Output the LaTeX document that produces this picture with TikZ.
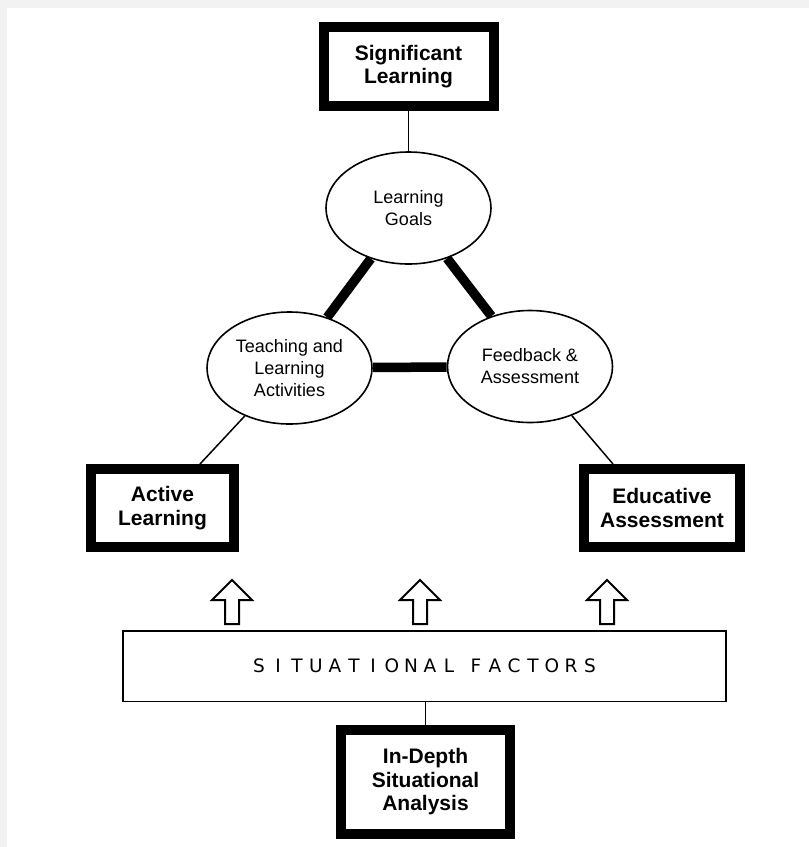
\documentclass[tikz,border=0pt]{standalone}
\usepackage{fontspec}
\setmainfont{Liberation Sans}
\newfontfamily\factorsfont{DejaVu Sans}
\usetikzlibrary{shapes.geometric,calc}
\newcommand\lsb[1]{\makebox[19pt]{#1}}
\tikzset{
  bigbox/.style={draw, line width=10pt, align=center, inner sep=0pt,
    font=\fontsize{21}{23.5}\selectfont\bfseries},
  ell/.style={ellipse, draw, line width=1.6pt, align=center, inner sep=0pt,
    minimum width=165pt, minimum height=112pt,
    font=\fontsize{18}{22}\selectfont},
  thicklink/.style={line width=9.5pt},
  thinlink/.style={line width=1.5pt},
  uparrow/.pic={\draw[line width=2pt, line join=miter, fill=white]
    (-7,0) -- (-7,-24) -- (-20,-24) -- (0,-44) -- (20,-24) -- (7,-24) -- (7,0) -- cycle;}
}
\begin{document}
\begin{tikzpicture}[x=1pt,y=-1pt]
\useasboundingbox (0,0) rectangle (809,847);
\fill[gray!10] (0,0) rectangle (809,847);
\fill[white] (7,8) rectangle (809,847);

\node[bigbox, minimum width=170pt, minimum height=79pt] (sl) at (408.5,66.5) {Significant\\Learning};
\node[ell] (lg) at (408.5,208) {Learning\\Goals};
\node[ell] (tla) at (289.5,368) {Teaching and\\Learning\\Activities};
\node[ell] (fa) at (530,366.5) {Feedback \&\\Assessment};
\node[bigbox, minimum width=143pt, minimum height=78pt] (al) at (162.5,508) {Active\\Learning};
\node[bigbox, minimum width=156pt, minimum height=78pt] (ea) at (662,508) {Educative\\Assessment};
\node[draw, line width=1.5pt, minimum width=603pt, minimum height=70.5pt, inner sep=0pt] (sf) at (424.5,666)
  {\factorsfont\fontsize{18.5}{21}\selectfont
   \lsb{S}\lsb{I}\lsb{T}\lsb{U}\lsb{A}\lsb{T}\lsb{I}\lsb{O}\lsb{N}\lsb{A}\lsb{L}\hspace{8pt}\lsb{F}\lsb{A}\lsb{C}\lsb{T}\lsb{O}\lsb{R}\lsb{S}};
\node[bigbox, minimum width=169pt, minimum height=104pt] (ida) at (425.5,782) {In-Depth\\Situational\\Analysis};

\draw[thinlink] (sl) -- (lg);
\draw[thicklink] (lg) -- (tla);
\draw[thicklink] (lg) -- (fa);
\draw[thicklink] (tla) -- (fa);
\draw[thinlink] (tla) -- ([xshift=37.5pt]al.north);
\draw[thinlink] (fa) -- ([xshift=-49pt]ea.north);
\draw[thinlink] ([xshift=1pt]sf.south) -- ([xshift=0pt]ida.north);

\pic at (232,624) {uparrow};
\pic at (420,624) {uparrow};
\pic at (607,624) {uparrow};
\end{tikzpicture}
\end{document}
